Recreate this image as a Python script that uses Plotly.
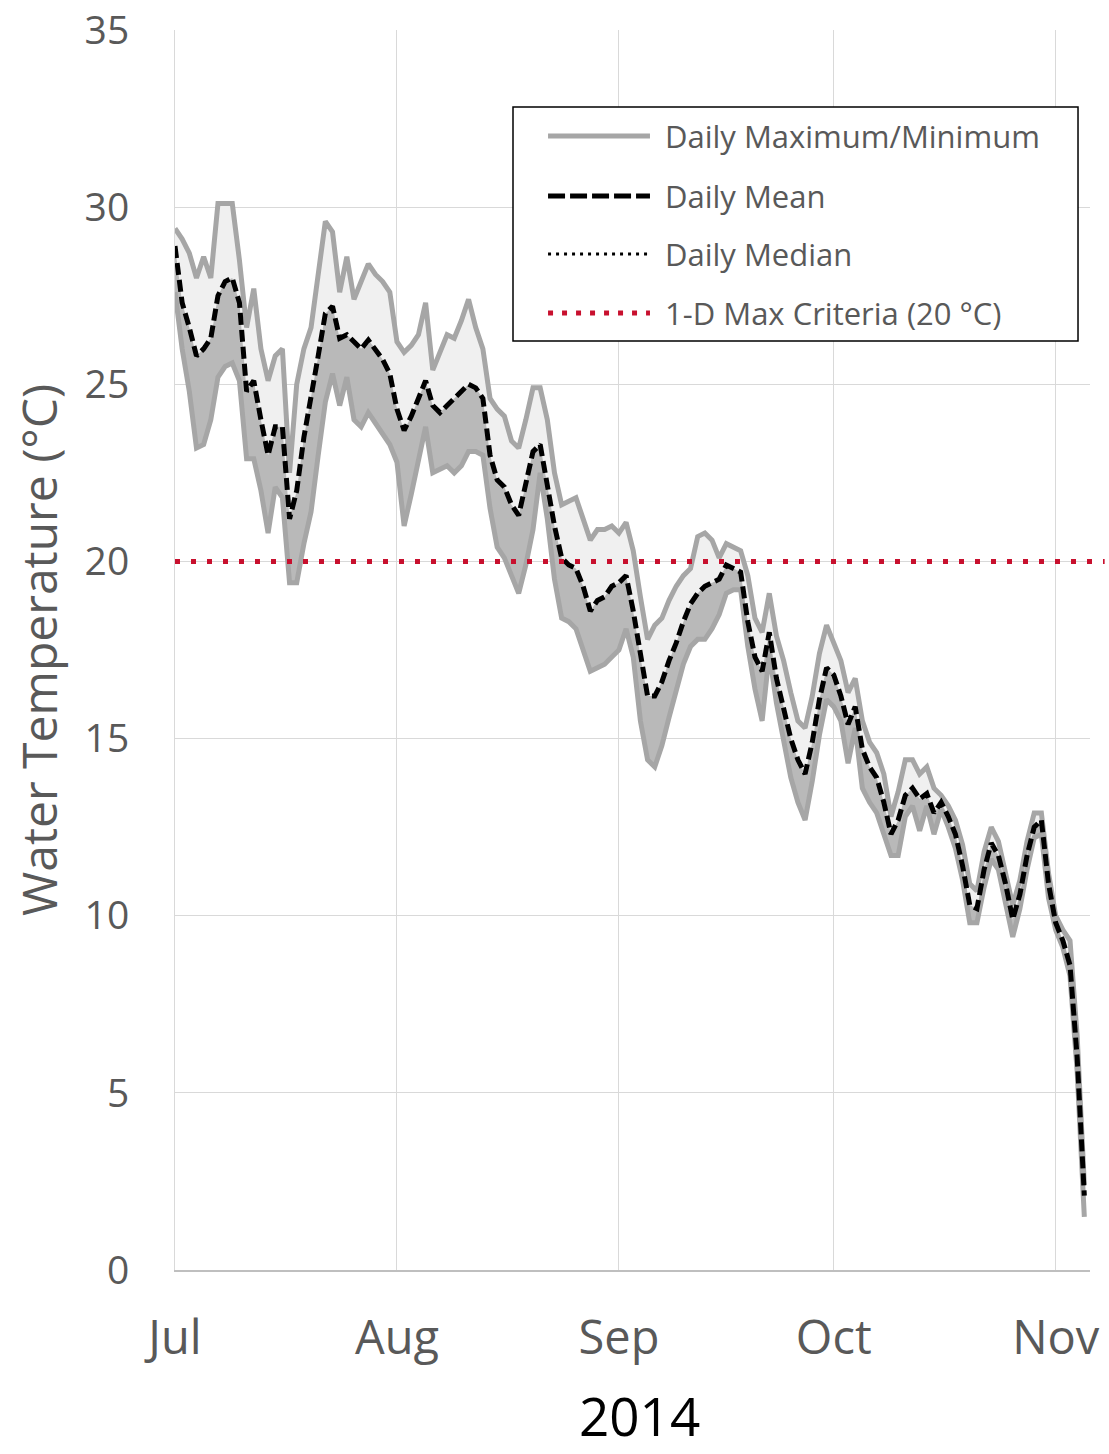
import plotly.graph_objects as go
import pandas as pd

# ---- data ----
start_date = "2014-07-01"
daily_max = [29.4, 29.1, 28.7, 28.0, 28.6, 28.0, 30.1, 30.1, 30.1, 28.5,
             26.6, 27.7, 26.0, 25.1, 25.8, 26.0, 22.5, 25.0, 26.0, 26.6,
             28.0, 29.6, 29.3, 27.6, 28.6, 27.4, 27.9, 28.4, 28.1, 27.9,
             27.6, 26.2, 25.9, 26.1, 26.4, 27.3, 25.4, 25.9, 26.4, 26.3,
             26.8, 27.4, 26.6, 26.0, 24.6, 24.3, 24.1, 23.4, 23.2, 24.0,
             24.9, 24.9, 24.0, 22.5, 21.6, 21.7, 21.8, 21.2, 20.6, 20.9,
             20.9, 21.0, 20.8, 21.1, 20.3, 19.0, 17.8, 18.2, 18.4, 18.9,
             19.3, 19.6, 19.8, 20.7, 20.8, 20.6, 20.1, 20.5, 20.4, 20.3,
             19.6, 18.4, 18.0, 19.1, 17.9, 17.2, 16.3, 15.5, 15.3, 16.2,
             17.4, 18.2, 17.7, 17.2, 16.3, 16.7, 15.5, 14.9, 14.6, 14.0,
             12.8, 13.5, 14.4, 14.4, 14.0, 14.2, 13.6, 13.4, 13.1, 12.7,
             12.0, 10.9, 10.7, 11.8, 12.5, 12.1, 11.2, 10.3, 11.0, 12.1,
             12.9, 12.9, 11.2, 10.0, 9.6, 9.3, 6.6, 2.4]
daily_mean = [28.9, 27.3, 26.6, 25.8, 26.0, 26.3, 27.5, 27.9, 28.0, 27.3,
              24.8, 25.1, 24.0, 23.0, 23.8, 23.8, 21.2, 22.0, 23.5, 24.6,
              25.8, 27.0, 27.2, 26.3, 26.4, 26.2, 26.0, 26.25, 26.0, 25.7,
              25.3, 24.3, 23.7, 24.1, 24.6, 25.1, 24.4, 24.2, 24.4, 24.6,
              24.8, 25.0, 24.9, 24.6, 23.0, 22.3, 22.1, 21.6, 21.3, 22.2,
              23.1, 23.3, 22.2, 21.0, 20.1, 19.9, 19.8, 19.3, 18.6, 18.9,
              19.0, 19.3, 19.4, 19.6, 18.6, 17.3, 16.2, 16.2, 16.6, 17.2,
              17.7, 18.3, 18.8, 19.1, 19.3, 19.4, 19.5, 19.9, 19.8, 19.7,
              18.3, 17.3, 16.9, 18.0, 16.7, 15.9, 15.0, 14.4, 14.0, 14.9,
              16.1, 17.0, 16.8, 16.2, 15.4, 15.9, 14.7, 14.2, 13.9, 13.2,
              12.3, 12.7, 13.4, 13.6, 13.3, 13.45, 12.9, 13.2, 12.8, 12.3,
              11.4, 10.3, 10.2, 11.3, 12.05, 11.7, 10.9, 9.9, 10.6, 11.7,
              12.5, 12.7, 10.9, 9.8, 9.3, 8.6, 6.0, 2.1]
daily_min = [27.6, 26.0, 24.8, 23.2, 23.3, 24.0, 25.2, 25.5, 25.6, 25.1,
             22.9, 22.9, 22.0, 20.8, 22.1, 21.8, 19.4, 19.4, 20.5, 21.4,
             23.0, 24.5, 25.3, 24.4, 25.2, 24.0, 23.8, 24.2, 23.9, 23.6,
             23.3, 22.8, 21.0, 21.9, 22.8, 23.8, 22.5, 22.6, 22.7, 22.5,
             22.7, 23.1, 23.1, 23.0, 21.5, 20.4, 20.1, 19.6, 19.1, 19.9,
             20.9, 22.5, 21.2, 19.5, 18.4, 18.3, 18.1, 17.5, 16.9, 17.0,
             17.1, 17.3, 17.5, 18.1, 17.3, 15.5, 14.4, 14.2, 14.8, 15.6,
             16.4, 17.1, 17.6, 17.8, 17.8, 18.1, 18.5, 19.1, 19.2, 19.2,
             17.6, 16.4, 15.5, 17.4, 16.0, 15.0, 13.9, 13.2, 12.7, 13.8,
             15.1, 16.1, 15.9, 15.5, 14.3, 15.3, 13.6, 13.2, 12.9, 12.3,
             11.7, 11.7, 12.8, 13.1, 12.4, 13.1, 12.3, 13.0, 12.5, 11.9,
             11.0, 9.8, 9.8, 10.8, 11.6, 11.3, 10.4, 9.4, 10.2, 11.3,
             12.2, 12.3, 10.5, 9.6, 9.1, 8.3, 5.6, 1.5]
criteria = 20
month_ticks = ["2014-07-01", "2014-08-01", "2014-09-01", "2014-10-01", "2014-11-01"]
month_labels = ["Jul", "Aug", "Sep", "Oct", "Nov"]
legend_labels = ["Daily Maximum/Minimum", "Daily Mean", "Daily Median",
                 "1-D Max Criteria (20 °C)"]
x_title = "2014"
y_title = "Water Temperature (°C)"

dates = pd.date_range(start_date, periods=len(daily_max), freq="D")

FONT = "Open Sans"
GREY_TXT = "#595959"
LINE_GREY = "#a6a6a6"
FILL_LIGHT = "#f0f0f0"
FILL_DARK = "#b9b9b9"
RED = "#c8102e"

fig = go.Figure()
# fills
fig.add_trace(go.Scatter(x=dates, y=daily_max, mode="lines", line=dict(width=0),
                         showlegend=False, hoverinfo="skip"))
fig.add_trace(go.Scatter(x=dates, y=daily_mean, mode="lines", line=dict(width=0),
                         fill="tonexty", fillcolor=FILL_LIGHT, showlegend=False,
                         hoverinfo="skip"))
fig.add_trace(go.Scatter(x=dates, y=daily_min, mode="lines", line=dict(width=0),
                         fill="tonexty", fillcolor=FILL_DARK, showlegend=False,
                         hoverinfo="skip"))
# lines
fig.add_trace(go.Scatter(x=dates, y=daily_max, mode="lines", name="Daily Maximum",
                         line=dict(color=LINE_GREY, width=5), showlegend=False))
fig.add_trace(go.Scatter(x=dates, y=daily_min, mode="lines", name="Daily Minimum",
                         line=dict(color=LINE_GREY, width=5), showlegend=False))
fig.add_trace(go.Scatter(x=dates, y=daily_mean, mode="lines", name="Daily Mean",
                         line=dict(color="black", width=5, dash="12px,5px"),
                         showlegend=False))

# criteria line (extends slightly past the plot like the reference)
fig.add_shape(type="line", xref="paper", yref="y", x0=0, x1=1.016,
              y0=criteria, y1=criteria,
              line=dict(color=RED, width=5, dash="5px,11px"))

# ---- hand-drawn legend box ----
lx0, lx1, ly0, ly1 = 0.3694, 0.9869, 0.7492, 0.9379
fig.add_shape(type="rect", xref="paper", yref="paper", x0=lx0, x1=lx1, y0=ly0, y1=ly1,
              line=dict(color="black", width=1.5), fillcolor="white", layer="above")
rows_y = [0.9145, 0.8661, 0.8194, 0.7718]
sx0, sx1, tx = 0.4077, 0.5191, 0.5333
styles = [dict(color=LINE_GREY, width=5),
          dict(color="black", width=5, dash="17px,5px"),
          dict(color="black", width=3, dash="3px,5px"),
          dict(color=RED, width=5, dash="5px,9px")]
for yv, st, lab in zip(rows_y, styles, legend_labels):
    fig.add_shape(type="line", xref="paper", yref="paper", x0=sx0, x1=sx1,
                  y0=yv, y1=yv, line=st, layer="above")
    fig.add_annotation(xref="paper", yref="paper", x=tx, y=yv, text=lab,
                       showarrow=False, xanchor="left", yanchor="middle",
                       font=dict(family=FONT, size=31, color=GREY_TXT))

# axis titles
fig.add_annotation(xref="paper", yref="paper", x=0.508, y=-0.1177, text=x_title,
                   showarrow=False, xanchor="center", yanchor="middle",
                   font=dict(family=FONT, size=53, color="black"))
fig.add_annotation(xref="paper", yref="paper", x=-0.1497, y=0.5, text=y_title,
                   textangle=-90, showarrow=False, xanchor="center", yanchor="middle",
                   font=dict(family=FONT, size=48, color=GREY_TXT))

fig.update_layout(
    width=1109, height=1454,
    margin=dict(l=175, r=19, t=30, b=184),
    paper_bgcolor="white", plot_bgcolor="white",
    font=dict(family=FONT, color=GREY_TXT),
    showlegend=False,
)
fig.update_xaxes(
    type="date",
    range=["2014-07-01", "2014-11-05 19:00"],
    tickvals=month_ticks, ticktext=month_labels,
    tickfont=dict(family=FONT, size=47, color=GREY_TXT),
    showgrid=True, gridcolor="#d9d9d9", gridwidth=1,
    showline=True, linecolor="#bfbfbf", linewidth=2,
    ticks="", ticklabelstandoff=26,
    zeroline=False, automargin=False,
)
fig.update_yaxes(
    range=[0, 35], dtick=5, tick0=0,
    tickfont=dict(family=FONT, size=39, color=GREY_TXT),
    showgrid=True, gridcolor="#d9d9d9", gridwidth=1,
    showline=True, linecolor="#d9d9d9", linewidth=1,
    ticks="", ticklabelstandoff=37,
    zeroline=False, automargin=False,
)

fig.write_html("out.html")
